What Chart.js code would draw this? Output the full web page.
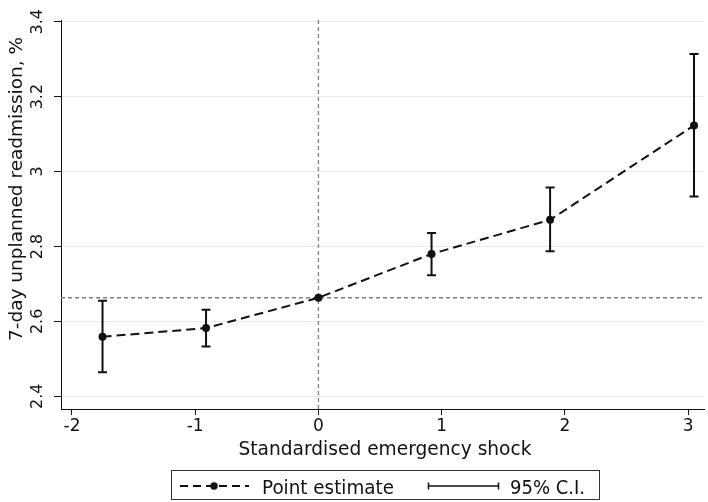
<!DOCTYPE html>
<html>
<head>
<meta charset="utf-8">
<script src="https://cdn.jsdelivr.net/npm/chart.js@4.4.1/dist/chart.umd.min.js"></script>
<style>
html,body{margin:0;padding:0;background:#fff;}
#wrap{position:relative;width:708px;height:502px;}
</style>
</head>
<body>
<div id="wrap"><canvas id="c" width="708" height="502"></canvas></div>
<script>
// ---- data ----
const shock      = [-1.752, -0.912, 0, 0.918, 1.880, 3.048];
const estimate   = [2.559, 2.582, 2.663, 2.780, 2.871, 3.123];
const ciLow      = [2.464, 2.533, null, 2.723, 2.787, 2.933];
const ciHigh     = [2.655, 2.631, null, 2.836, 2.957, 3.314];
const xTicks     = [-2, -1, 0, 1, 2, 3];
const yTicks     = [2.4, 2.6, 2.8, 3.0, 3.2, 3.4];
const yTickLabels= ['2.4', '2.6', '2.8', '3', '3.2', '3.4'];
const xTitle     = 'Standardised emergency shock';
const yTitle     = '7-day unplanned readmission, %';
const legendLabels = ['Point estimate', '95% C.I.'];
const X_MIN = -2.089, X_MAX = 3.129, Y_MIN = 2.366, Y_MAX = 3.4045;
const refX = 0, refY = estimate[2];

const FONT = "'DejaVu Sans', sans-serif";

const errorBars = {
  id: 'errorBars',
  afterDatasetsDraw(chart) {
    const {ctx, scales:{x, y}} = chart;
    ctx.save();
    ctx.strokeStyle = '#111';
    ctx.lineWidth = 2;
    for (let i = 0; i < shock.length; i++) {
      if (ciLow[i] == null) continue;
      const px = x.getPixelForValue(shock[i]);
      const p1 = y.getPixelForValue(ciLow[i]);
      const p2 = y.getPixelForValue(ciHigh[i]);
      ctx.beginPath();
      ctx.moveTo(px, p1); ctx.lineTo(px, p2);
      ctx.moveTo(px - 4.5, p1); ctx.lineTo(px + 4.5, p1);
      ctx.moveTo(px - 4.5, p2); ctx.lineTo(px + 4.5, p2);
      ctx.stroke();
    }
    ctx.restore();
  }
};

function stretchedText(ctx, text, font, targetW) {
  ctx.font = font;
  const w = ctx.measureText(text).width;
  return targetW / w;
}

const textPlugin = {
  id: 'texts',
  afterDraw(chart) {
    const {ctx, scales:{y}} = chart;
    ctx.save();
    ctx.fillStyle = '#111';
    // y tick labels (rotated)
    ctx.font = '16px ' + FONT;
    ctx.textAlign = 'center';
    ctx.textBaseline = 'alphabetic';
    yTicks.forEach((v, i) => {
      const py = y.getPixelForValue(v);
      ctx.save();
      ctx.translate(41.5, py);
      ctx.rotate(-Math.PI / 2);
      ctx.fillText(yTickLabels[i], 0, 0);
      ctx.restore();
    });
    // y title
    ctx.font = '18.5px ' + FONT;
    ctx.save();
    ctx.translate(22, 189);
    ctx.rotate(-Math.PI / 2);
    ctx.fillText(yTitle, 0, 0);
    ctx.restore();
    // x title
    let f = '20px ' + FONT;
    let s = stretchedText(ctx, xTitle, f, 293);
    ctx.save();
    ctx.translate(385, 455);
    ctx.scale(s, 1);
    ctx.fillText(xTitle, 0, 0);
    ctx.restore();

    // legend box
    ctx.strokeStyle = '#333';
    ctx.lineWidth = 1;
    ctx.strokeRect(171.5, 470.5, 428, 29);
    // point estimate symbol
    ctx.strokeStyle = '#111';
    ctx.lineWidth = 2;
    ctx.setLineDash([8, 5]);
    ctx.beginPath(); ctx.moveTo(180, 486); ctx.lineTo(249, 486); ctx.stroke();
    ctx.setLineDash([]);
    ctx.beginPath(); ctx.arc(214, 486, 3.7, 0, Math.PI * 2); ctx.fillStyle = '#111'; ctx.fill();
    // CI symbol
    ctx.beginPath();
    ctx.moveTo(428.5, 486); ctx.lineTo(498.5, 486);
    ctx.moveTo(428.5, 482.5); ctx.lineTo(428.5, 489.5);
    ctx.moveTo(498.5, 482.5); ctx.lineTo(498.5, 489.5);
    ctx.lineWidth = 1.5;
    ctx.stroke();
    // legend texts
    ctx.textAlign = 'left';
    f = '20px ' + FONT;
    s = stretchedText(ctx, legendLabels[0], f, 132);
    ctx.save(); ctx.translate(262, 494); ctx.scale(s, 1); ctx.fillText(legendLabels[0], 0, 0); ctx.restore();
    s = stretchedText(ctx, legendLabels[1], f, 75);
    ctx.save(); ctx.translate(510, 494); ctx.scale(s, 1); ctx.fillText(legendLabels[1], 0, 0); ctx.restore();
    ctx.restore();
  }
};

new Chart(document.getElementById('c'), {
  type: 'scatter',
  data: {
    datasets: [
      {
        label: legendLabels[0],
        data: shock.map((v, i) => ({x: v, y: estimate[i]})),
        showLine: true,
        borderColor: '#111',
        borderWidth: 2,
        borderDash: [9, 5],
        pointRadius: 4,
        pointBackgroundColor: '#111',
        pointBorderWidth: 0,
        order: 0
      },
      {
        label: 'refH',
        data: [{x: X_MIN, y: refY}, {x: X_MAX, y: refY}],
        showLine: true,
        borderColor: '#808080',
        borderWidth: 1.3,
        borderDash: [4, 3],
        pointRadius: 0,
        order: 2
      },
      {
        label: 'refV',
        data: [{x: refX, y: Y_MIN}, {x: refX, y: Y_MAX}],
        showLine: true,
        borderColor: '#808080',
        borderWidth: 1.3,
        borderDash: [4, 3],
        pointRadius: 0,
        order: 2
      }
    ]
  },
  options: {
    responsive: false,
    animation: false,
    devicePixelRatio: 1,
    layout: { padding: { top: 20, right: 1, bottom: 0, left: 0 } },
    plugins: { legend: { display: false }, tooltip: { enabled: false } },
    scales: {
      x: {
        type: 'linear',
        min: X_MIN, max: X_MAX,
        afterBuildTicks: (sc) => { sc.ticks = xTicks.map(v => ({value: v})); },
        afterFit: (sc) => { sc.height = 93; },
        grid: { drawOnChartArea: false, tickLength: 6, tickColor: '#111', tickWidth: 1 },
        border: { display: true, color: '#111', width: 1 },
        ticks: { font: { family: FONT, size: 17 }, color: '#111', padding: 1, maxRotation: 0,
                 callback: (v) => String(v) }
      },
      y: {
        type: 'linear',
        min: Y_MIN, max: Y_MAX,
        afterBuildTicks: (sc) => { sc.ticks = yTicks.map(v => ({value: v})); },
        afterFit: (sc) => { sc.width = 61; },
        grid: { color: '#e3ebee', lineWidth: 1, tickLength: 7, tickColor: '#111', tickWidth: 1 },
        border: { display: true, color: '#111', width: 1 },
        ticks: { display: false }
      }
    }
  },
  plugins: [errorBars, textPlugin]
});
</script>
</body>
</html>
